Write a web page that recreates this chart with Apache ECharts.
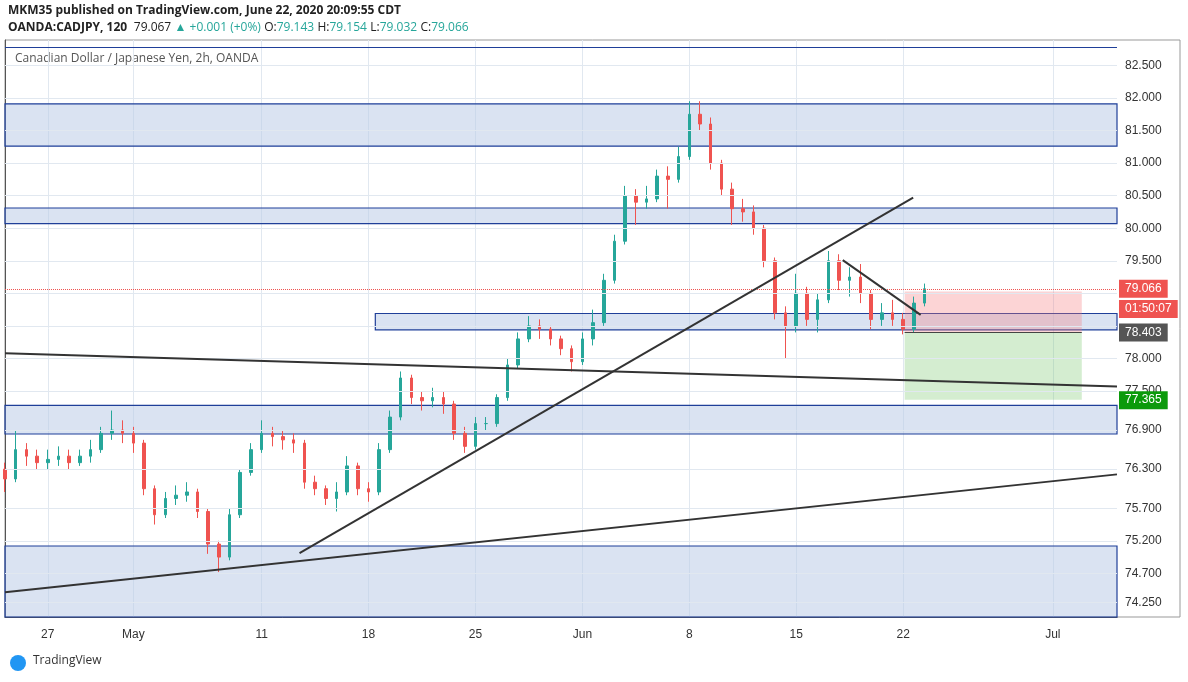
<!DOCTYPE html><html><head><meta charset="utf-8">
<script src="https://cdn.jsdelivr.net/npm/echarts@6/dist/echarts.min.js"></script>
<style>html,body{margin:0;background:#fff}#c{width:1188px;height:682px}</style></head><body><div id="c"></div>
<script>
const candles=[[76.30,76.15,75.95,76.40],[76.15,76.60,76.10,76.90],[76.60,76.50,76.35,76.70],[76.50,76.40,76.30,76.60],[76.40,76.45,76.30,76.60],[76.45,76.50,76.35,76.65],[76.50,76.40,76.30,76.60],[76.40,76.50,76.35,76.60],[76.50,76.60,76.40,76.75],[76.60,76.85,76.55,76.95],[76.85,76.90,76.75,77.20],[76.90,76.85,76.70,77.05],[76.85,76.70,76.55,76.95],[76.70,76.00,75.90,76.75],[76.00,75.60,75.45,76.05],[75.60,75.85,75.55,75.95],[75.85,75.90,75.75,76.05],[75.90,75.95,75.80,76.10],[75.95,75.65,75.55,76.00],[75.65,75.15,75.00,75.70],[75.15,74.95,74.72,75.20],[74.95,75.60,74.90,75.70],[75.60,76.25,75.55,76.30],[76.25,76.60,76.20,76.70],[76.60,76.85,76.55,77.05],[76.85,76.80,76.65,76.95],[76.80,76.75,76.60,76.90],[76.75,76.70,76.55,76.85],[76.70,76.10,76.00,76.75],[76.10,76.00,75.90,76.20],[76.00,75.85,75.75,76.05],[75.85,75.95,75.65,76.10],[75.95,76.35,75.90,76.50],[76.35,76.00,75.90,76.40],[76.00,75.95,75.80,76.10],[75.95,76.60,75.90,76.70],[76.60,77.10,76.55,77.20],[77.10,77.70,77.05,77.80],[77.70,77.40,77.30,77.75],[77.40,77.35,77.20,77.50],[77.35,77.40,77.25,77.55],[77.40,77.30,77.15,77.50],[77.30,76.85,76.75,77.35],[76.85,76.65,76.55,76.95],[76.65,77.00,76.60,77.10],[77.00,77.00,76.90,77.10],[77.00,77.40,76.95,77.45],[77.40,77.90,77.35,78.00],[77.90,78.30,77.85,78.40],[78.30,78.50,78.25,78.65],[78.50,78.45,78.30,78.60],[78.45,78.30,78.20,78.50],[78.30,78.15,78.05,78.35],[78.15,77.95,77.80,78.20],[77.95,78.30,77.90,78.40],[78.30,78.55,78.20,78.75],[78.55,79.20,78.50,79.30],[79.20,79.80,79.15,79.90],[79.80,80.50,79.75,80.65],[80.50,80.40,80.05,80.60],[80.40,80.45,80.30,80.65],[80.45,80.80,80.40,80.90],[80.80,80.75,80.30,80.95],[80.75,81.10,80.70,81.25],[81.10,81.75,81.05,81.95],[81.75,81.60,81.50,81.95],[81.60,81.00,80.90,81.70],[81.00,80.60,80.50,81.05],[80.60,80.30,80.05,80.70],[80.30,80.25,80.10,80.45],[80.25,80.00,79.90,80.35],[80.00,79.50,79.40,80.05],[79.50,78.70,78.60,79.55],[78.70,78.50,78.00,78.80],[78.50,79.00,78.40,79.30],[79.00,78.60,78.50,79.10],[78.60,78.90,78.40,79.00],[78.90,79.50,78.85,79.65],[79.50,79.20,79.05,79.60],[79.20,79.25,78.95,79.40],[79.25,79.00,78.85,79.45],[79.00,78.60,78.45,79.05],[78.60,78.70,78.50,78.85],[78.70,78.60,78.50,78.90],[78.60,78.45,78.37,78.70],[78.45,78.85,78.40,78.95],[78.85,79.07,78.80,79.15]];
const slotCount=105;
const xTickLabels={4:'27',12:'May',24:'11',34:'18',44:'25',54:'Jun',64:'8',74:'15',84:'22',98:'Jul'};
const yTicks=[82.5,82,81.5,81,80.5,80,79.5,79,78.5,78,77.5,76.9,76.3,75.7,75.2,74.7,74.25];
const hiddenTicks=[79,78.5];
const zones=[[81.91,81.26,0],[80.31,80.07,0],[78.69,78.44,34.7],[77.28,76.84,0],[75.12,74.03,0]];
const trendLines=[[[0,78.08],[104.2,77.57]],[[27.6,75.01],[85.1,80.47]],[[0,74.41],[104.2,76.22]],[[78.5,79.51],[85.8,78.67]]];
const topLine=82.78;
const lastPrice=79.066, timerPrice=78.76, entry=78.403, stop=79.03, target=77.365;
const posX=[84.3,100.9];
const cats=Array.from({length:slotCount},(_,i)=>String(i));

const chart=echarts.init(document.getElementById('c'));
const zoneData=zones.map(z=>[{coord:[z[2],z[0]]},{coord:[104.2,z[1]]}]);
const lineSeries=trendLines.map(l=>({type:'line',xAxisIndex:1,data:l,symbol:'none',lineStyle:{color:'#333',width:2},z:5,silent:true}));
const tagLine={color:'rgba(0,0,0,0)',width:0};
chart.setOption({
 animation:false,
 grid:{left:5,right:71,top:40,bottom:65},
 xAxis:[{type:'category',data:cats,boundaryGap:false,
   axisLine:{show:true,lineStyle:{color:'#555'}},axisTick:{show:false},
   axisLabel:{interval:(i)=>xTickLabels[i]!==undefined,formatter:(v,i)=>xTickLabels[i]||'',color:'#333',fontSize:12,margin:12},
   splitLine:{show:true,interval:(i)=>xTickLabels[i]!==undefined,lineStyle:{color:'#e1e8f0'}}},
  {type:'value',min:0,max:104.2,show:false}],
 yAxis:{type:'value',min:74.03,max:82.89,position:'right',axisLine:{show:true,lineStyle:{color:'#555'}},axisLabel:{show:false},axisTick:{show:false},splitLine:{show:false}},
 graphic:[
  {type:'text',left:8,top:5,style:{text:'MKM35 published on TradingView.com, June 22, 2020 20:09:55 CDT',font:'bold 12px "Open Sans", sans-serif',fill:'#222'}},
  {type:'text',left:8,top:22,style:{rich:{a:{font:'bold 12px "Open Sans"',fill:'#222'},b:{font:'12px "Open Sans"',fill:'#222'},g:{font:'12px "Open Sans"',fill:'#26a69a'}},text:'{a|OANDA:CADJPY, 120}  {b|79.067} {g|▲ +0.001 (+0%)} {b|O:}{g|79.143} {b|H:}{g|79.154} {b|L:}{g|79.032} {b|C:}{g|79.066}'}},
  {type:'text',left:15,top:53,style:{text:'Canadian Dollar / Japanese Yen, 2h, OANDA',font:'12px "Open Sans", sans-serif',fill:'#555'}},
  {type:'rect',shape:{x:5,y:40,width:1175,height:577},style:{fill:'none',stroke:'#999',lineWidth:1},z:0},
  {type:'circle',shape:{cx:18,cy:663,r:8},style:{fill:'#2196f3'}},
  {type:'text',left:33,top:655,style:{text:'TradingView',font:'12px "Open Sans", sans-serif',fill:'#333'}}
 ],
 series:[
  {type:'line',xAxisIndex:1,data:[],symbol:'none',silent:true,
   markLine:{symbol:'none',silent:true,lineStyle:{color:'#e1e8f0',type:'solid',width:1},
    label:{position:'end',color:'#333',fontSize:12,distance:8,formatter:p=>p.value.toFixed(3)},
    data:yTicks.map(v=>({yAxis:v,label:{show:!hiddenTicks.includes(v)}}))},
   markArea:{silent:true,itemStyle:{color:'rgba(187,204,232,0.55)',borderColor:'#1f3f99',borderWidth:1.2},data:zoneData}},
  {type:'candlestick',data:candles,barWidth:3,z:3,
   itemStyle:{color:'#26a69a',color0:'#ef5350',borderColor:'#26a69a',borderColor0:'#ef5350'}},
  {type:'line',xAxisIndex:1,data:[],symbol:'none',silent:true,z:4,
   markArea:{silent:true,data:[
    [{coord:[posX[0],stop],itemStyle:{color:'rgba(245,120,125,0.32)'}},{coord:[posX[1],entry]}],
    [{coord:[posX[0],entry],itemStyle:{color:'rgba(120,200,110,0.32)'}},{coord:[posX[1],target]}]]},
   markLine:{symbol:'none',silent:true,data:[
    [{coord:[posX[0],entry],lineStyle:{color:'#444',width:1,type:'solid'},label:{show:false}},{coord:[posX[1],entry]}],
    [{coord:[0,topLine],lineStyle:{color:'#1f3f99',width:1.2,type:'solid'},label:{show:false}},{coord:[104.2,topLine]}]
   ]}},
  {type:'line',xAxisIndex:1,data:[],symbol:'none',silent:true,z:6,
   markLine:{symbol:'none',silent:true,label:{position:'end',distance:2,fontSize:12,padding:[3,6],color:'#fff'},data:[
    {yAxis:lastPrice,lineStyle:{color:'#ef5350',type:'dotted',width:1},label:{backgroundColor:'#ef5350',formatter:'79.066'}},
    {yAxis:timerPrice,lineStyle:tagLine,label:{backgroundColor:'#ef5350',formatter:'01:50:07'}},
    {yAxis:entry,lineStyle:tagLine,label:{backgroundColor:'#555',formatter:'78.403'}},
    {yAxis:target,lineStyle:tagLine,label:{backgroundColor:'#0c9a0c',formatter:'77.365'}}
   ]}},
  ...lineSeries
 ]
});
</script></body></html>
